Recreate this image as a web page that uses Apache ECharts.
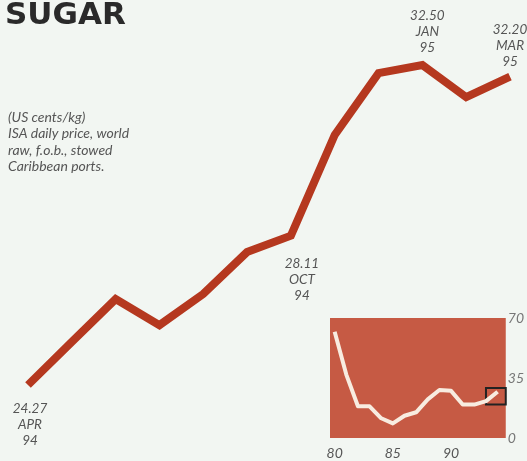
<!DOCTYPE html>
<html>
<head>
<meta charset="utf-8">
<script src="https://cdn.jsdelivr.net/npm/echarts@6/dist/echarts.min.js"></script>
<style>
  html, body { margin: 0; padding: 0; background: #f2f6f2; }
  #chart { width: 527px; height: 461px; }
</style>
</head>
<body>
<div id="chart"></div>
<script>
// Monthly ISA daily price, US cents/kg, Apr 1994 - Mar 1995
const months = ['APR', 'MAY', 'JUN', 'JUL', 'AUG', 'SEP', 'OCT', 'NOV', 'DEC', 'JAN', 'FEB', 'MAR'];
const years  = ['94', '94', '94', '94', '94', '94', '94', '94', '94', '95', '95', '95'];
const prices = [24.27, 25.38, 26.48, 25.81, 26.61, 27.69, 28.11, 30.70, 32.29, 32.50, 31.67, 32.20];

// Months that carry a value label
const labelled = [0, 6, 9, 11];

// Long-run annual average, 1980-1994 (two-digit years)
const histYears  = [80, 81, 82, 83, 84, 85, 86, 87, 88, 89, 90, 91, 92, 93, 94];
const histPrices = [62, 37, 18.5, 18.5, 11.5, 8.5, 13, 15, 22.5, 28, 27.5, 19.5, 19.5, 21.5, 27];
const histTicks  = [80, 85, 90];
const histYTicks = [0, 35, 70];

const RED = '#b5381f';
const TEXT = '#555';

const labelCfg = {
  0:  { position: 'bottom', distance: 15, offset: [2, 0] },
  6:  { position: 'bottom', distance: 19, offset: [11, 0] },
  9:  { position: 'top',    distance: 9,  offset: [5, 0] },
  11: { position: 'top',    distance: 6,  offset: [0, 0] }
};

const mainData = prices.map((v, i) => {
  if (!labelled.includes(i)) return v;
  const c = labelCfg[i];
  return {
    value: v,
    label: {
      show: true,
      position: c.position,
      distance: c.distance,
      offset: c.offset,
      formatter: v.toFixed(2) + '\n' + months[i] + '\n' + years[i]
    }
  };
});

const chart = echarts.init(document.getElementById('chart'), null, { renderer: 'canvas' });

chart.setOption({
  backgroundColor: '#f2f6f2',
  animation: false,
  title: [{
    text: 'SUGAR',
    left: 5,
    top: 0,
    padding: 0,
    textStyle: { fontFamily: 'DejaVu Sans', fontWeight: 'bold', fontSize: 31, color: '#2a2a2a' }
  }, {
    text: '(US cents/kg)\nISA daily price, world\nraw, f.o.b., stowed\nCaribbean ports.',
    left: 8,
    top: 109,
    padding: 0,
    textStyle: { fontFamily: 'Lato', fontStyle: 'italic', fontWeight: 'normal', fontSize: 14, lineHeight: 16.5, color: TEXT }
  }],
  grid: [
    { left: 28, width: 482, top: 45.5, height: 350 },
    { left: 330, width: 181, top: 318, height: 120, backgroundColor: '#c65a44', show: true, borderWidth: 0 }
  ],
  xAxis: [{
    gridIndex: 0,
    type: 'category',
    data: months,
    boundaryGap: false,
    show: false
  }, {
    gridIndex: 1,
    type: 'value',
    min: 79.6,
    max: 94.7,
    axisLine: { show: false },
    axisTick: { show: false },
    splitLine: { show: false },
    axisLabel: {
      customValues: histTicks,
      margin: 8,
      fontFamily: 'Lato', fontStyle: 'italic', fontSize: 14, color: '#555'
    }
  }],
  yAxis: [{
    gridIndex: 0,
    type: 'value',
    min: 24,
    max: 33,
    show: false
  }, {
    gridIndex: 1,
    type: 'value',
    position: 'right',
    min: 0,
    max: 70,
    axisLine: { show: false },
    axisTick: { show: false },
    splitLine: { show: false },
    axisLabel: {
      customValues: histYTicks,
      margin: 2,
      fontFamily: 'Lato', fontStyle: 'italic', fontSize: 14,
      color: function (v) { return v === 0 ? '#c8c8c8' : (v === 35 ? '#a0a0a0' : '#777'); }
    }
  }],
  series: [{
    type: 'line',
    xAxisIndex: 0,
    yAxisIndex: 0,
    data: mainData,
    showSymbol: true,
    symbol: 'circle',
    symbolSize: 1,
    itemStyle: { color: 'transparent' },
    lineStyle: { color: RED, width: 8, join: 'miter', cap: 'butt' },
    label: {
      show: false,
      fontFamily: 'Lato', fontStyle: 'italic', fontSize: 13.5, lineHeight: 16, color: TEXT, align: 'center'
    },
    emphasis: { disabled: true }
  }, {
    type: 'line',
    xAxisIndex: 1,
    yAxisIndex: 1,
    data: histYears.map((y, i) => [y, histPrices[i]]),
    showSymbol: false,
    lineStyle: { color: '#f8ece0', width: 4, join: 'round' },
    emphasis: { disabled: true },
    markArea: {
      silent: true,
      itemStyle: { color: 'transparent', borderColor: '#222', borderWidth: 2 },
      data: [[{ coord: [93.0, 19.5] }, { coord: [95.1, 29.2] }]]
    }
  }]
});
</script>
</body>
</html>
